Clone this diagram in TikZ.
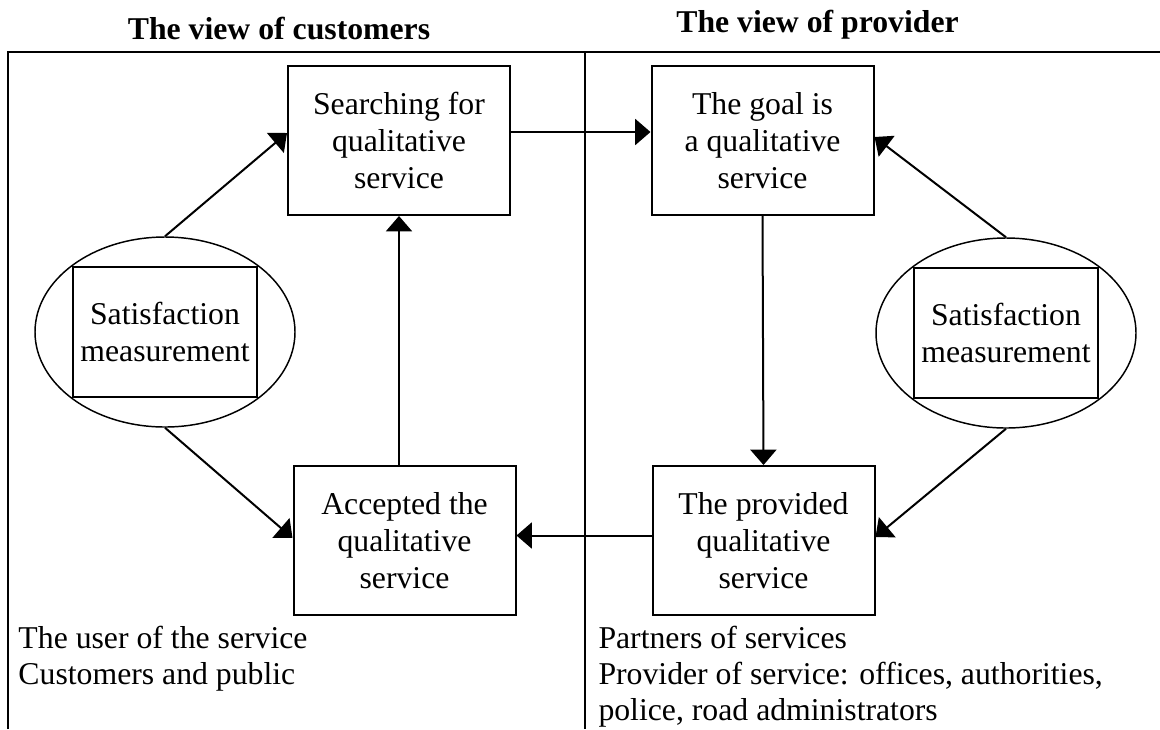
\documentclass[tikz,border=0pt]{standalone}
\usepackage{fontspec}
\setmainfont{Liberation Serif}
\usetikzlibrary{shapes.geometric,arrows.meta,calc}

\tikzset{every picture/.style={line width=0.75pt}}

\begin{document}
\begin{tikzpicture}[x=0.75pt,y=0.75pt,yscale=-1,xscale=1,
  font=\fontsize{23.8}{27.75}\selectfont,
  box/.style={draw,line width=1.5pt,rectangle,minimum width=166.5pt,minimum height=111.75pt,inner sep=0pt,align=center},
  satbox/.style={draw,line width=1.5pt,rectangle,minimum width=138pt,minimum height=97.5pt,inner sep=0pt,align=center},
  satoval/.style={draw,line width=1.1pt,ellipse,minimum width=195pt,minimum height=142.5pt,inner sep=0pt},
  arr/.style={line width=1.5pt,-{Triangle[length=11.5pt,width=19.5pt]}},
  frame/.style={line width=1.5pt},
  title/.style={anchor=base,inner sep=0pt,font=\fontsize{23.8}{27.75}\selectfont\bfseries},
  note/.style={anchor=north west,inner sep=0pt,align=left,font=\fontsize{23.8}{27}\selectfont}]
\useasboundingbox (0,0) rectangle (1160,729);

%Straight Lines: frame and divider
\draw [frame] (8,729) -- (8,52) -- (1160,52) ;
\draw [frame] (585,52) -- (585,729) ;

% Text Node
\node [title] (custTitle) at (279,39) {The view of customers};
% Text Node
\node [title] (provTitle) at (817.5,32) {The view of provider};

%Shape: Rectangle
\node [box] (search) at (399,140.5) {Searching for\\qualitative\\service};
%Shape: Rectangle
\node [box] (goal) at (762.5,140.5) {The goal is\\a qualitative\\service};
%Shape: Rectangle
\node [box] (accepted) at (404.5,540.5) {Accepted the\\qualitative\\service};
%Shape: Rectangle
\node [box] (provided) at (763.5,540.5) {The provided\\qualitative\\service};

%Shape: Ellipse
\node [satoval] (ovalL) at (165,332) {};
\node [satbox] (satL) at (165,332) {Satisfaction\\measurement};
%Shape: Ellipse
\node [satoval] (ovalR) at (1006,333) {};
\node [satbox] (satR) at (1006,333) {Satisfaction\\measurement};

%Straight Lines
\draw [arr] (ovalL.north) -- ($(search.west)+(0,-7.5)$) ;
\draw [arr] ($(search.east)+(0,-8.5)$) -- ($(goal.west)+(0,-8.5)$) ;
\draw [arr] (ovalR.north) -- ($(goal.east)+(0,-3.5)$) ;
\draw [arr] (goal.south) -- (provided.north) ;
\draw [arr] (ovalR.south) -- ($(provided.east)+(0,-3.5)$) ;
\draw [arr] ($(provided.west)+(0,-5)$) -- ($(accepted.east)+(0,-5)$) ;
\draw [arr] (ovalL.south) -- ($(accepted.west)+(0,-2.5)$) ;
\draw [arr] (accepted.north -| search.south) -- (search.south) ;

% Text Node
\node [note] (userTxt) at (18,626) {The user of the service\\Customers and public};
% Text Node
\node [note] (partnerTxt) at (598,626) {Partners of services\\Provider of service: offices, authorities,\\police, road administrators};

\end{tikzpicture}
\end{document}
